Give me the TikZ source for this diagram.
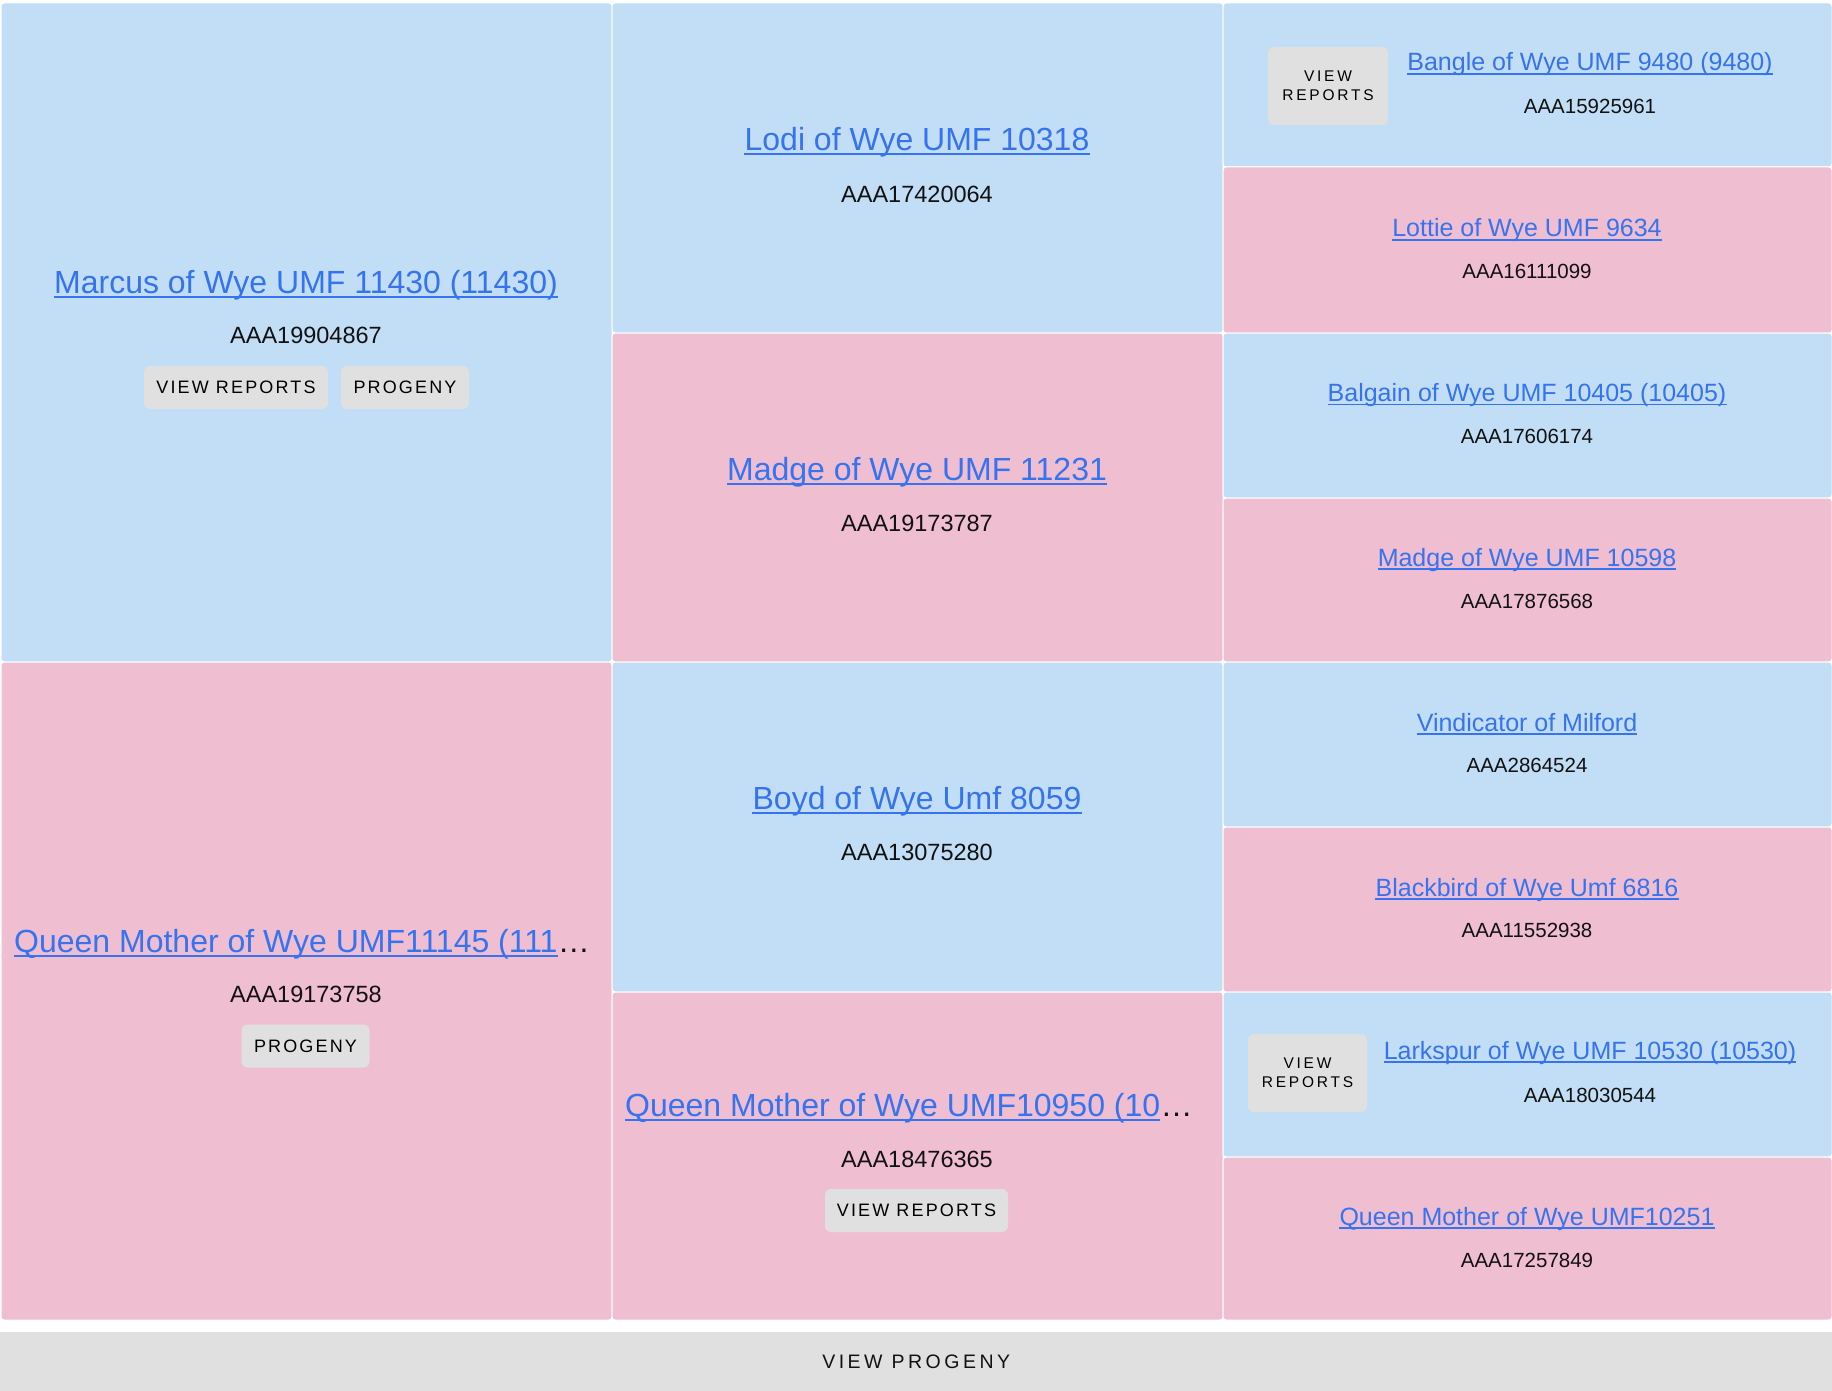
\documentclass[tikz,border=0pt]{standalone}
\usepackage{fontspec}
\setmainfont{Liberation Sans}
\newfontfamily\btnfont[LetterSpace=12]{Liberation Sans}
\newfontfamily\btnfontwide[LetterSpace=18]{Liberation Sans}
\definecolor{cblue}{RGB}{193,222,246}
\definecolor{cpink}{RGB}{239,190,208}
\definecolor{clink}{RGB}{53,115,240}
\definecolor{cbtn}{RGB}{224,224,224}
\definecolor{ctxt}{RGB}{17,17,17}
\tikzset{
  cellb/.style={fill=cblue, draw=white, line width=1pt, rounded corners=3pt},
  cellp/.style={fill=cpink, draw=white, line width=1pt, rounded corners=3pt},
  bigname/.style={anchor=base, inner sep=0pt, text=clink, font=\fontsize{32}{38}\selectfont},
  smallname/.style={anchor=base, inner sep=0pt, text=clink, font=\fontsize{25}{30}\selectfont},
  bigid/.style={anchor=base, inner sep=0pt, text=ctxt, font=\fontsize{23.5}{28}\selectfont},
  smallid/.style={anchor=base, inner sep=0pt, text=ctxt, font=\fontsize{20.5}{25}\selectfont},
  ulbig/.style={draw=clink, line width=2pt},
  ulsmall/.style={draw=clink, line width=1.6pt},
  btnbox/.style={fill=cbtn, rounded corners=6pt, text=ctxt, inner sep=0pt},
  btnlabel/.style={font=\btnfont\fontsize{18}{22}\selectfont},
  btnsmall/.style={font=\btnfontwide\fontsize{15.5}{19}\selectfont, align=center},
}
\begin{document}
\begin{tikzpicture}[x=1pt,y=-1pt]
\useasboundingbox (0,0) rectangle (1832,1391);
\fill[white] (0,0) rectangle (1832,1391);
% column 1
\fill[cellb] (1,3) rectangle (612,662);
\fill[cellp] (1,662) rectangle (612,1320);
% column 2
\fill[cellb] (612,3) rectangle (1223,333);
\fill[cellp] (612,333) rectangle (1223,662);
\fill[cellb] (612,662) rectangle (1223,992);
\fill[cellp] (612,992) rectangle (1223,1320);
% column 3
\fill[cellb] (1223,3) rectangle (1832,167);
\fill[cellp] (1223,167) rectangle (1832,333);
\fill[cellb] (1223,333) rectangle (1832,498);
\fill[cellp] (1223,498) rectangle (1832,662);
\fill[cellb] (1223,662) rectangle (1832,827);
\fill[cellp] (1223,827) rectangle (1832,992);
\fill[cellb] (1223,992) rectangle (1832,1157);
\fill[cellp] (1223,1157) rectangle (1832,1320);

% ---- column 1 ----
\node[bigname] (marcus) at (306,293.5) {Marcus of Wye UMF 11430 (11430)};
\draw[ulbig] ([yshift=-3.5pt]marcus.base west) -- ([yshift=-3.5pt]marcus.base east);
\node[bigid] (marcusid) at (306,343.5) {AAA19904867};
\node[btnbox, minimum width=184, minimum height=43] (marcusvr) at (236,387.5) {};
\node[btnlabel] (marcusvrt) at (marcusvr.center) {VIEW REPORTS};
\node[btnbox, minimum width=128, minimum height=43] (marcuspg) at (405,387.5) {};
\node[btnlabel] (marcuspgt) at (marcuspg.center) {PROGENY};

\node[bigname, anchor=base west] (qm1) at (14,952) {Queen Mother of Wye UMF11145 (111};
\draw[ulbig] ([yshift=-3.5pt]qm1.base west) -- ([yshift=-3.5pt]qm1.base east);
\node[bigname, anchor=base west, text=ctxt] (qm1dots) at (qm1.base east) {…};
\node[bigid] (qm1id) at (306,1002.5) {AAA19173758};
\node[btnbox, minimum width=128, minimum height=43] (qm1pg) at (305.5,1046) {};
\node[btnlabel] (qm1pgt) at (qm1pg.center) {PROGENY};

% ---- column 2 ----
\node[bigname] (lodi) at (917,150.5) {Lodi of Wye UMF 10318};
\draw[ulbig] ([yshift=-3.5pt]lodi.base west) -- ([yshift=-3.5pt]lodi.base east);
\node[bigid] (lodiid) at (917,202.5) {AAA17420064};

\node[bigname] (madge) at (917,480) {Madge of Wye UMF 11231};
\draw[ulbig] ([yshift=-3.5pt]madge.base west) -- ([yshift=-3.5pt]madge.base east);
\node[bigid] (madgeid) at (917,531.5) {AAA19173787};

\node[bigname] (boyd) at (917,809.5) {Boyd of Wye Umf 8059};
\draw[ulbig] ([yshift=-3.5pt]boyd.base west) -- ([yshift=-3.5pt]boyd.base east);
\node[bigid] (boydid) at (917,860.5) {AAA13075280};

\node[bigname, anchor=base west] (qm2) at (625,1116.5) {Queen Mother of Wye UMF10950 (10};
\draw[ulbig] ([yshift=-3.5pt]qm2.base west) -- ([yshift=-3.5pt]qm2.base east);
\node[bigname, anchor=base west, text=ctxt] (qm2dots) at (qm2.base east) {…};
\node[bigid] (qm2id) at (917,1167.5) {AAA18476365};
\node[btnbox, minimum width=183, minimum height=43] (qm2vr) at (916.5,1210.5) {};
\node[btnlabel] (qm2vrt) at (qm2vr.center) {VIEW REPORTS};

% ---- column 3 ----
\node[btnbox, minimum width=120, minimum height=78] (banglevr) at (1328,86) {};
\node[btnsmall] (banglevrt) at (banglevr.center) {VIEW\\REPORTS};
\node[smallname] (bangle) at (1590,71) {Bangle of Wye UMF 9480 (9480)};
\draw[ulsmall] ([yshift=-3pt]bangle.base west) -- ([yshift=-3pt]bangle.base east);
\node[smallid] (bangleid) at (1590,113.4) {AAA15925961};

\node[smallname] (lottie) at (1527,237) {Lottie of Wye UMF 9634};
\draw[ulsmall] ([yshift=-3pt]lottie.base west) -- ([yshift=-3pt]lottie.base east);
\node[smallid] (lottieid) at (1527,278.4) {AAA16111099};

\node[smallname] (balgain) at (1527,401.6) {Balgain of Wye UMF 10405 (10405)};
\draw[ulsmall] ([yshift=-3pt]balgain.base west) -- ([yshift=-3pt]balgain.base east);
\node[smallid] (balgainid) at (1527,443.4) {AAA17606174};

\node[smallname] (madgeb) at (1527,566) {Madge of Wye UMF 10598};
\draw[ulsmall] ([yshift=-3pt]madgeb.base west) -- ([yshift=-3pt]madgeb.base east);
\node[smallid] (madgebid) at (1527,608) {AAA17876568};

\node[smallname] (vind) at (1527,731) {Vindicator of Milford};
\draw[ulsmall] ([yshift=-3pt]vind.base west) -- ([yshift=-3pt]vind.base east);
\node[smallid] (vindid) at (1527,772.4) {AAA2864524};

\node[smallname] (black) at (1527,896) {Blackbird of Wye Umf 6816};
\draw[ulsmall] ([yshift=-3pt]black.base west) -- ([yshift=-3pt]black.base east);
\node[smallid] (blackid) at (1527,937.4) {AAA11552938};

\node[btnbox, minimum width=119, minimum height=78] (larkvr) at (1307.5,1073) {};
\node[btnsmall] (larkvrt) at (larkvr.center) {VIEW\\REPORTS};
\node[smallname] (lark) at (1590,1059) {Larkspur of Wye UMF 10530 (10530)};
\draw[ulsmall] ([yshift=-3pt]lark.base west) -- ([yshift=-3pt]lark.base east);
\node[smallid] (larkid) at (1590,1102.4) {AAA18030544};

\node[smallname] (qm3) at (1527,1225) {Queen Mother of Wye UMF10251};
\draw[ulsmall] ([yshift=-3pt]qm3.base west) -- ([yshift=-3pt]qm3.base east);
\node[smallid] (qm3id) at (1527,1267) {AAA17257849};

% ---- bottom bar ----
\node[fill=cbtn, inner sep=0pt, minimum width=1832, minimum height=59, anchor=north west] (bar) at (0,1332) {};
\node[font=\btnfontwide\fontsize{19.5}{24}\selectfont, text=ctxt] (bartext) at (bar.center) {VIEW PROGENY};
\end{tikzpicture}
\end{document}
